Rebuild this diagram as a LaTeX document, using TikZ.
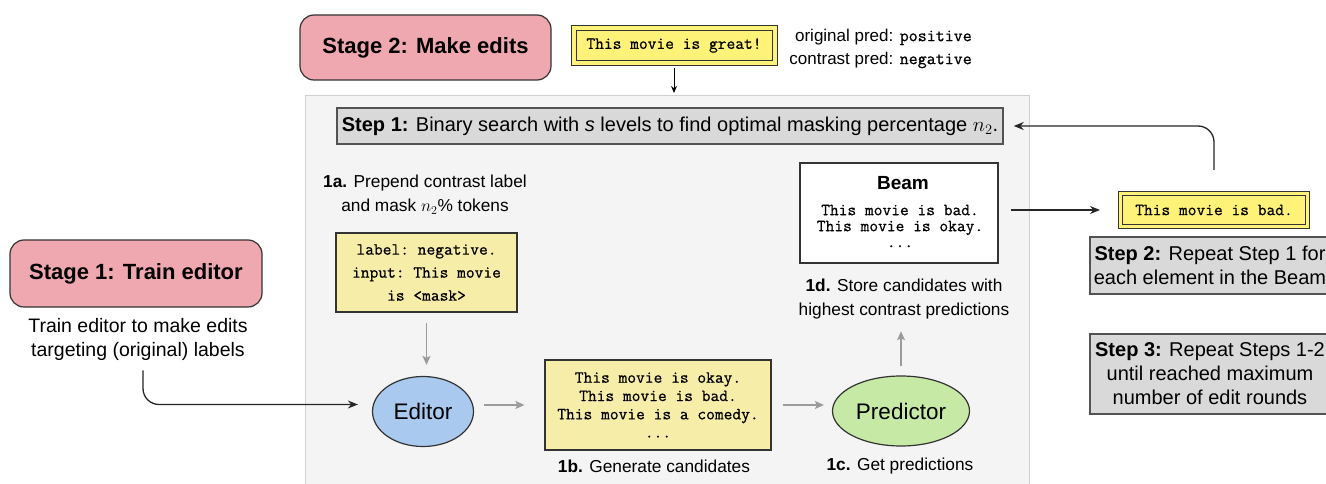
\documentclass[tikz,border=0pt]{standalone}
\usepackage{fontspec}
\setmainfont{Liberation Sans}
\setmonofont{Latin Modern Mono}[FakeBold=0.7]
\usetikzlibrary{arrows.meta,shapes.geometric,calc}
\definecolor{pinkS}{RGB}{239,168,176}
\definecolor{panelF}{RGB}{244,244,244}
\definecolor{panelD}{RGB}{208,208,208}
\definecolor{greyB}{RGB}{217,217,217}
\definecolor{paleY}{RGB}{246,238,168}
\definecolor{brightY}{RGB}{255,242,120}
\definecolor{blueE}{RGB}{169,201,238}
\definecolor{greenP}{RGB}{198,233,166}
\definecolor{edge}{RGB}{51,51,51}
\definecolor{garrow}{RGB}{155,155,155}
\tikzset{
 stagebox/.style={draw=edge, line width=1.2pt, fill=pinkS, rounded corners=14pt, font=\fontsize{22}{26}\selectfont\bfseries, inner sep=0pt},
 stepbox/.style={draw=edge!85, line width=1.5pt, fill=greyB, inner sep=0pt, font=\fontsize{20}{24}\selectfont, align=center},
 monobox/.style={draw=edge, line width=1.2pt, fill=paleY, inner sep=0pt, align=center, font=\fontsize{17}{23}\ttfamily},
 hibox/.style={draw=edge, line width=1pt, double=brightY, double distance=4pt, fill=brightY, inner sep=0pt, font=\fontsize{17}{20}\ttfamily},
 lbl/.style={align=center, font=\fontsize{17.3}{24}\selectfont, inner sep=0pt},
 model/.style={ellipse, draw=edge, line width=1.2pt, inner sep=0pt, font=\fontsize{22.5}{26}\selectfont},
 blackarrow/.style={draw=black!85, line width=1.3pt, -{Stealth[length=10pt,width=8pt]}},
 greyarrow/.style={draw=garrow, line width=1.6pt, -{Stealth[length=9pt,width=8pt,inset=2pt]}},
}
\begin{document}
\begin{tikzpicture}[x=1pt,y=-1pt]
\path[use as bounding box] (0,0) rectangle (1326,484);
\clip (0,0) rectangle (1326,484);
\fill[white] (0,0) rectangle (1326,484);

\node[draw=panelD, fill=panelF, line width=1pt, minimum width=724pt, minimum height=400pt, anchor=north west, inner sep=0pt] (panel) at (305,95) {};

\node[stagebox, minimum width=251pt, minimum height=65pt] (stage2) at (425.5,47.5) {Stage 2: Make edits};
\node[hibox, minimum width=201pt, minimum height=35pt] (great) at (674,45.5) {This movie is great!};
\node[anchor=east, align=right, font=\fontsize{17}{23}\selectfont, inner sep=0pt] (preds) at (972,48.5) {original pred: {\fontsize{17.5}{23}\ttfamily positive}\\contrast pred: {\fontsize{17.5}{23}\ttfamily negative}};

\node[stepbox, minimum width=666pt, minimum height=36pt] (step1) at (670,126) {\textbf{Step 1:} Binary search with \textit{s} levels to find optimal masking percentage $n_2$.};

\node[lbl] (l1a) at (425,195) {\textbf{1a.} Prepend contrast label\\and mask $n_2\%$ tokens};
\node[monobox, minimum width=181pt, minimum height=79pt] (inp) at (426.5,272.5) {label: negative.\\input: This movie\\is <mask>};
\node[model, fill=blueE, minimum width=101pt, minimum height=70pt] (editor) at (423,411.5) {Editor};
\node[monobox, font=\fontsize{17}{18.3}\ttfamily, minimum width=226pt, minimum height=90pt] (cands) at (658,405) {This movie is okay.\\This movie is bad.\\This movie is a comedy.\\...};
\node[lbl] (l1b) at (654,466) {\textbf{1b.} Generate candidates};
\node[model, fill=greenP, minimum width=137pt, minimum height=70pt] (pred) at (901,411) {Predictor};
\node[lbl] (l1c) at (900,466) {\textbf{1c.} Get predictions};
\node[lbl] (l1d) at (904,299) {\textbf{1d.} Store candidates with\\highest contrast predictions};
\node[draw=edge, line width=1.3pt, fill=white, minimum width=198pt, minimum height=100pt, inner sep=0pt] (beam) at (899,213) {};
\node[font=\fontsize{19}{22}\selectfont\bfseries, inner sep=0pt] (beamt) at (903,183) {Beam};
\node[align=center, font=\fontsize{17}{16}\ttfamily, inner sep=0pt] (beaml) at (900,226) {This movie is bad.\\This movie is okay.\\...};

\node[hibox, double distance=3.5pt, minimum width=187pt, minimum height=33pt] (bad) at (1214,210) {This movie is bad.};
\node[stepbox, minimum width=240pt, minimum height=57pt] (step2) at (1210,265.5) {\textbf{Step 2:} Repeat Step 1 for\\each element in the Beam};
\node[stepbox, minimum width=240pt, minimum height=80pt] (step3) at (1210,374) {\textbf{Step 3:} Repeat Steps 1-2\\until reached maximum\\number of edit rounds};

\node[stagebox, minimum width=252pt, minimum height=67pt] (stage1) at (136,273.5) {Stage 1: Train editor};
\node[lbl, font=\fontsize{19.5}{24}\selectfont] (train) at (138,339) {Train editor to make edits\\targeting (original) labels};

% connectors
\draw[-{Stealth[length=7pt,width=6pt]}, line width=1pt, shorten <=5pt, shorten >=2pt] (great.south) -- (great.south |- panel.north);
\draw[blackarrow, rounded corners=16pt, shorten <=10pt, shorten >=14pt] ([xshift=5pt]train.south) |- ([yshift=7pt]editor.west);
\draw[greyarrow, shorten <=10pt, shorten >=11pt] (inp.south) -- (inp.south |- editor.north);
\draw[greyarrow, shorten <=10pt, shorten >=20pt] (editor.east |- cands.west) -- (cands.west);
\draw[greyarrow, shorten <=11pt, shorten >=8pt] (cands.east) -- (cands.east -| pred.west);
\draw[greyarrow, shorten <=9pt, shorten >=12pt] (pred.north) -- (pred.north |- l1d.south);
\draw[blackarrow, shorten <=12pt, shorten >=20pt] (bad.west -| beam.east) -- (bad.west);
\draw[blackarrow, rounded corners=16pt, shorten <=0pt, shorten >=10pt] ([yshift=23pt]bad.north) |- (step1.east);
\end{tikzpicture}
\end{document}
